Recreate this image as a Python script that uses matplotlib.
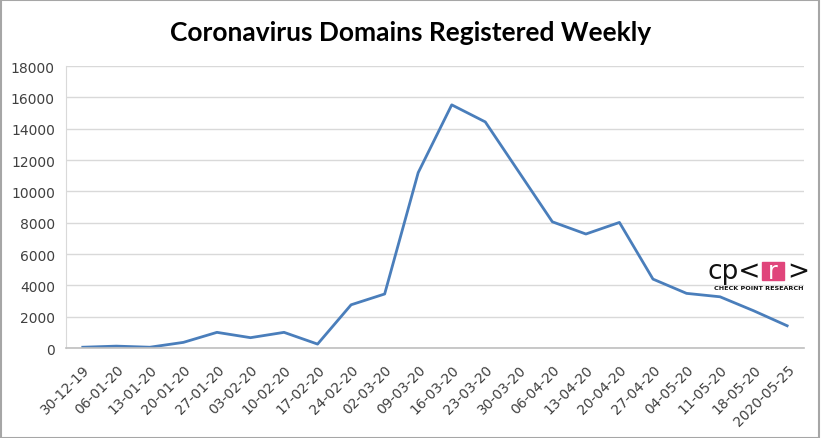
import matplotlib.pyplot as plt
from matplotlib.patches import Rectangle

weeks = ['30-12-19', '06-01-20', '13-01-20', '20-01-20', '27-01-20', '03-02-20',
         '10-02-20', '17-02-20', '24-02-20', '02-03-20', '09-03-20', '16-03-20',
         '23-03-20', '30-03-20', '06-04-20', '13-04-20', '20-04-20', '27-04-20',
         '04-05-20', '11-05-20', '18-05-20', '2020-05-25']
domains = [50, 120, 50, 360, 1000, 660, 1000, 250, 2760, 3450, 11200, 15530,
           14440, 11250, 8060, 7280, 8020, 4400, 3490, 3270, 2380, 1420]
y_ticks = list(range(0, 18001, 2000))

fig = plt.figure(figsize=(8.22, 4.39), dpi=100)
ax = fig.add_axes([0.0803, 0.205, 0.8977, 0.642])

ax.plot(range(len(weeks)), domains, color='#4a7ebb', linewidth=2.0)

ax.set_xlim(-0.5, len(weeks) - 0.5)
ax.set_ylim(0, 18000)
ax.set_yticks(y_ticks)
ax.set_yticklabels([str(t) for t in y_ticks], fontsize=10, color='#404040')
ax.set_xticks(range(len(weeks)))
ax.set_xticklabels(weeks, rotation=45, ha='right', rotation_mode='anchor',
                   fontsize=10, color='#404040')
ax.tick_params(axis='both', length=0, pad=8)
ax.tick_params(axis='x', pad=10)

ax.grid(axis='y', color='#d9d9d9', linewidth=1)
ax.set_axisbelow(True)
for s in ['top', 'right']:
    ax.spines[s].set_visible(False)
ax.spines['left'].set_color('#d9d9d9')
ax.spines['bottom'].set_color('#bfbfbf')
ax.spines['bottom'].set_linewidth(1.2)

fig.text(0.499, 0.925, 'Coronavirus Domains Registered Weekly', ha='center',
         va='center', fontsize=19, fontweight='bold', family='Lato')

# check point research logo
fig.text(707 / 822, 1 - 272 / 439, 'cp<', fontsize=19, family='DejaVu Sans',
         va='center', ha='left', color='#111111')
fig.patches.append(Rectangle((762 / 822, 1 - 281 / 439), 22 / 822, 18 / 439,
                             transform=fig.transFigure, color='#e0457b'))
fig.text(773 / 822, 1 - 272 / 439, 'r', fontsize=17, family='DejaVu Sans',
         va='center', ha='center', color='white')
fig.text(787 / 822, 1 - 272 / 439, '>', fontsize=19, family='DejaVu Sans',
         va='center', ha='left', color='#111111')
fig.text(759 / 822, 1 - 289 / 439, 'CHECK POINT RESEARCH', fontsize=4.6,
         family='DejaVu Sans', fontweight='bold', va='center', ha='center',
         color='#111111')

# picture border
fig.patches.append(Rectangle((0.001, 0.001), 0.995, 0.997, transform=fig.transFigure,
                             fill=False, edgecolor='#a6a6a6', linewidth=1.5))

fig.savefig('out.png', dpi=100)
